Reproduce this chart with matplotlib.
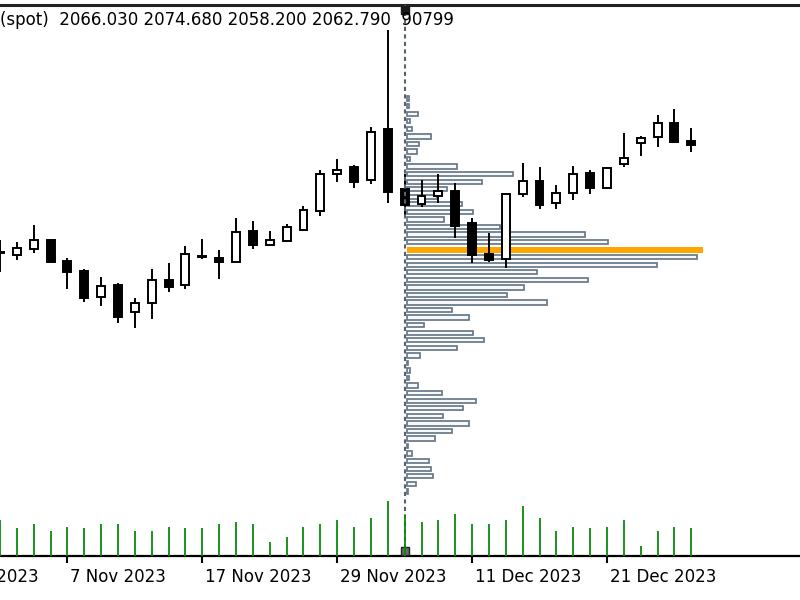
"""
Gold (spot) daily candles with a volume profile, Nov - Dec 2023.
"""
import numpy as np
import pandas as pd
import matplotlib
matplotlib.use('Agg')
import matplotlib.pyplot as plt
from matplotlib.transforms import blended_transform_factory

# daily candles, 1 Nov 2023 .. 28 Dec 2023
opens = [1990.9, 1989.3, 1993.3, 1999.3, 1985.2, 1978.7, 1960.9, 1969.1, 1951.0, 1956.8,
         1972.5, 1969.1, 1988.6, 1987.0, 1984.8, 2005.4, 1996.0, 1998.9, 2006.0, 2019.0,
         2043.6, 2048.1, 2039.6, 2073.6, 2033.5, 2023.3, 2028.8, 2032.2, 2010.9, 1989.7,
         1986.4, 2030.2, 2039.1, 2024.4, 2030.7, 2044.5, 2034.4, 2050.3, 2064.2, 2068.6,
         2077.6, 2066.03]
highs = [1999.3, 1998.2, 2009.4, 2000.0, 1987.0, 1979.6, 1974.3, 1970.3, 1960.2, 1979.6,
         1984.1, 1995.5, 1999.8, 1992.6, 2014.3, 2012.3, 2005.4, 2009.8, 2022.1, 2046.3,
         2053.5, 2049.6, 2075.0, 2140.0, 2043.6, 2039.6, 2043.4, 2037.8, 2013.9, 2004.2,
         2030.6, 2050.8, 2048.1, 2036.2, 2049.0, 2046.3, 2047.7, 2070.9, 2069.1, 2083.2,
         2087.2, 2074.68]
lows = [1977.8, 1985.9, 1990.4, 1984.2, 1966.2, 1957.9, 1955.0, 1943.8, 1940.5, 1946.3,
        1964.6, 1966.2, 1986.4, 1973.1, 1984.6, 1993.1, 1995.8, 1998.2, 2005.5, 2015.6,
        2038.4, 2034.0, 2036.9, 2023.9, 2015.0, 2021.3, 2024.4, 2000.5, 1983.7, 1984.8,
        1980.3, 2028.4, 2019.9, 2019.9, 2026.2, 2030.0, 2034.1, 2048.1, 2055.9, 2061.5,
        2064.2, 2058.20]
closes = [1990.4, 1993.7, 1999.3, 1984.8, 1977.6, 1960.6, 1968.4, 1947.8, 1956.8, 1972.5,
          1967.6, 1989.7, 1987.7, 1984.8, 2004.9, 1996.0, 1999.3, 2008.2, 2019.5, 2043.6,
          2046.3, 2038.4, 2072.0, 2031.5, 2022.8, 2029.0, 2032.2, 2008.7, 1989.3, 1985.9,
          2030.2, 2039.1, 2022.8, 2030.7, 2043.4, 2034.4, 2047.4, 2054.6, 2067.6, 2077.6,
          2065.3, 2062.79]
volumes = [118000, 90800, 103900, 82900, 96000, 90800, 103900, 103900, 82900, 82900,
           96000, 90800, 90800, 103900, 110500, 103900, 46900, 61300, 96000, 103900,
           118000, 96000, 124600, 179300, 135400, 110500, 118000, 137700, 103900, 103900,
           118000, 164900, 124600, 82900, 96000, 90800, 96000, 118000, 33800, 82900,
           96000, 90799]

# volume profile, from the top price level down (level step 5.07)
profile_top = 2094.2
profile_step = 5.07
profile_vol = [2, 2, 11, 3, 5, 24, 12, 10, 3, 50,
               106, 75, 40, 30, 55, 66, 37, 93, 178, 201,
               296, 290, 250, 130, 181, 117, 100, 140, 45, 62,
               17, 66, 77, 50, 13, 1, 3, 2, 11, 35,
               69, 56, 36, 62, 45, 28, 1, 5, 22, 24,
               26, 9, 1]
profile_start = 24   # bar where the profile is anchored (5 Dec)

header = "(spot)  2066.030 2074.680 2058.200 2062.790  90799"

# trading days: index -4 is 26 Oct
dates = pd.bdate_range('2023-10-26', periods=len(opens) + 4)
label_idx = [-4, 4, 12, 20, 28, 36]
labels = [f"{dates[i + 4].day} {dates[i + 4]:%b %Y}" for i in label_idx]

px_per_bar = 16.86
x = np.arange(len(opens))
o = np.array(opens); h = np.array(highs); l = np.array(lows); c = np.array(closes)
up = c >= o

fig = plt.figure(figsize=(8, 6), dpi=100)
ax = fig.add_axes([0, 44 / 600, 1, 551 / 600])
ax.set_xlim(0, 800 / px_per_bar)
ax.set_ylim(1787.2, 2157.0)

# volume profile
levels = profile_top - profile_step * np.arange(len(profile_vol))
pv = np.array(profile_vol, dtype=float)
widths = pv / pv.max() * (296 / px_per_bar)
left = profile_start + 2 / px_per_bar
poc = np.argmax(pv)
mask = np.arange(len(pv)) != poc
ax.barh(levels[mask], widths[mask], left=left, height=2.9,
        color='#F7F9FB', edgecolor='#687888', lw=1.25, zorder=2)
ax.barh(levels[poc], widths[poc], left=left, height=4.0,
        color='#FFA500', lw=0, zorder=2.5)

# candles
ax.vlines(x, l, h, color='black', lw=1.4, zorder=3)
body_w = 0.47
bh = np.maximum(np.abs(c - o), 0.3)
ax.bar(x[up], bh[up], bottom=np.minimum(o, c)[up], width=body_w,
       color='white', edgecolor='black', lw=1.4, zorder=4)
ax.bar(x[~up], bh[~up], bottom=np.minimum(o, c)[~up], width=body_w,
       color='black', edgecolor='black', lw=1.4, zorder=4)

# vertical marker line
ax.axvline(profile_start, color='#55626F', lw=1.5, ls=(0, (2, 1.6)), zorder=5)
tr = blended_transform_factory(ax.transData, ax.transAxes)
ax.plot([profile_start], [0.991], marker='s', ms=5.5, color='#1A1A1A',
        transform=tr, clip_on=False, zorder=6)
ax.plot([profile_start], [0.009], marker='s', ms=5.5, color='#6A6A6A',
        mec='#222222', transform=tr, clip_on=False, zorder=6)

# volumes
vax = ax.twinx()
vax.set_ylim(0, 1.806e6)
vax.vlines(x, 0, volumes, color='#0A8A0A', lw=1.3)
vax.set_axis_off()

# frame
for s in ['left', 'right']:
    ax.spines[s].set_visible(False)
ax.spines['top'].set_linewidth(2.2)
ax.spines['top'].set_color('#222222')
ax.spines['bottom'].set_linewidth(1.6)
ax.set_yticks([])
ax.set_xticks(label_idx[1:])
ax.tick_params(axis='x', length=5, width=1.5, direction='out', labelbottom=False)
for i, lab in zip(label_idx, labels):
    ax.text(i + 3 / px_per_bar, -21 / 551, lab, transform=tr, fontsize=12,
            ha='left', va='center', clip_on=False)

fig.text(0.0, 1 - 20 / 600, header, fontsize=12, ha='left', va='center')

fig.savefig('out.png', dpi=100)
